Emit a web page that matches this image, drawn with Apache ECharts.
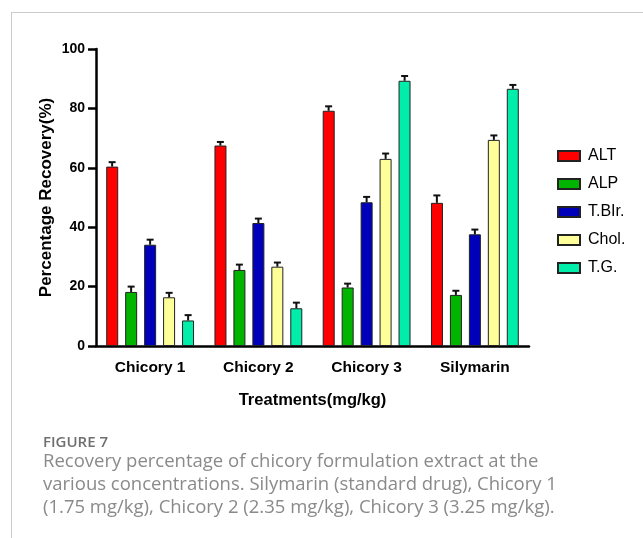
<!DOCTYPE html>
<html>
<head>
<meta charset="utf-8">
<script src="https://cdn.jsdelivr.net/npm/echarts@6/dist/echarts.min.js"></script>
<style>
  html, body { margin: 0; padding: 0; background: #fff; }
  #chart { width: 643px; height: 538px; }
</style>
</head>
<body>
<div id="chart"></div>
<script>
// Treatment groups
const categories = ['Chicory 1', 'Chicory 2', 'Chicory 3', 'Silymarin'];
const seriesNames = ['ALT', 'ALP', 'T.BIr.', 'Chol.', 'T.G.'];

// Mean recovery (%) per marker
const altValues  = [60.4, 67.5, 79.2, 48.2];
const alpValues  = [18.2, 25.6, 19.7, 17.2];
const tbilValues = [34.1, 41.4, 48.4, 37.6];
const cholValues = [16.4, 26.7, 63.0, 69.4];
const tgValues   = [8.6, 12.7, 89.3, 86.6];

// Standard deviation per marker
const altErr  = [1.5, 1.2, 1.5, 2.5];
const alpErr  = [1.8, 1.8, 1.3, 1.4];
const tbilErr = [1.7, 1.5, 1.8, 1.6];
const cholErr = [1.5, 1.4, 1.8, 1.5];
const tgErr   = [1.8, 1.9, 1.6, 1.3];

const yTicks = [0, 20, 40, 60, 80, 100];

const values = [altValues, alpValues, tbilValues, cholValues, tgValues];
const errors = [altErr, alpErr, tbilErr, cholErr, tgErr];
const colors = ['#ff0000', '#00b400', '#0000bb', '#ffff99', '#00eeaa'];

const BAR_W = 12;
const BAR_STEP = 19;

const chart = echarts.init(document.getElementById('chart'));
const boldFont = 'Liberation Sans, Arial, sans-serif';

const barSeries = seriesNames.map((name, i) => ({
  name: name,
  type: 'bar',
  data: values[i],
  barWidth: BAR_W,
  barGap: '58%',
  itemStyle: { color: colors[i], borderColor: '#222', borderWidth: 1 },
  emphasis: { disabled: true },
  z: 2
}));

// Upper error whiskers, placed at each bar's centre within its group
const errorSeries = seriesNames.map((name, i) => ({
  type: 'custom',
  name: name + ' SD',
  data: values[i].map((v, j) => [j, v, v + errors[i][j]]),
  z: 3,
  silent: true,
  renderItem: function (params, api) {
    const offset = (i - 2) * BAR_STEP;
    const base = api.coord([api.value(0), api.value(1)]);
    const top = api.coord([api.value(0), api.value(2)]);
    const x = base[0] + offset;
    return {
      type: 'group',
      children: [
        { type: 'line', shape: { x1: x, y1: base[1], x2: x, y2: top[1] },
          style: { stroke: '#111', lineWidth: 2 } },
        { type: 'line', shape: { x1: x - 3.5, y1: top[1], x2: x + 3.5, y2: top[1] },
          style: { stroke: '#111', lineWidth: 2 } }
      ]
    };
  }
}));

const captionColor = '#8a8a8a';
const captionFont = '"Open Sans", "Noto Sans", sans-serif';

chart.setOption({
  animation: false,
  backgroundColor: '#fff',
  grid: { left: 96, right: 114, top: 49, bottom: 192, containLabel: false },
  legend: {
    data: seriesNames,
    orient: 'vertical',
    left: 552,
    top: 143,
    icon: 'rect',
    itemWidth: 22,
    itemHeight: 10,
    itemGap: 12,
    textStyle: { fontFamily: boldFont, fontSize: 16, color: '#000', padding: [0, 0, 0, 3] },
    selectedMode: false
  },
  xAxis: {
    type: 'category',
    data: categories,
    name: 'Treatments(mg/kg)',
    nameLocation: 'middle',
    nameGap: 46,
    nameMoveOverlap: false,
    nameTextStyle: { fontFamily: boldFont, fontSize: 16.5, fontWeight: 'bold', color: '#000' },
    axisLine: { lineStyle: { color: '#000', width: 2.5 } },
    axisTick: { alignWithLabel: true, length: 8, lineStyle: { color: '#000', width: 2.5 } },
    axisLabel: { margin: 14, fontFamily: boldFont, fontSize: 15.5, fontWeight: 'bold', color: '#000' }
  },
  yAxis: {
    type: 'value',
    min: yTicks[0],
    max: yTicks[yTicks.length - 1],
    interval: 20,
    name: 'Percentage Recovery(%)',
    nameLocation: 'middle',
    nameGap: 41,
    nameMoveOverlap: false,
    nameTextStyle: { fontFamily: boldFont, fontSize: 17, fontWeight: 'bold', color: '#000' },
    axisLine: { show: true, lineStyle: { color: '#000', width: 2.5 } },
    axisTick: { show: true, length: 8, lineStyle: { color: '#000', width: 2.5 } },
    axisLabel: { margin: 11, fontFamily: boldFont, fontSize: 14, fontWeight: 'bold', color: '#000' },
    splitLine: { show: false }
  },
  series: barSeries.concat(errorSeries),
  graphic: [
    { type: 'line', shape: { x1: 11.5, y1: 12, x2: 11.5, y2: 538 }, style: { stroke: '#cccccc', lineWidth: 1 } },
    { type: 'line', shape: { x1: 11, y1: 12.5, x2: 643, y2: 12.5 }, style: { stroke: '#cccccc', lineWidth: 1 } },
    { type: 'text', left: 43, top: 435,
      style: { text: 'FIGURE 7', fill: '#6f6f6f', font: '600 15px ' + captionFont } },
    { type: 'text', left: 43, top: 452,
      style: { text: 'Recovery percentage of chicory formulation extract at the', fill: captionColor, font: '18.5px ' + captionFont } },
    { type: 'text', left: 43, top: 475,
      style: { text: 'various concentrations. Silymarin (standard drug), Chicory 1', fill: captionColor, font: '18.5px ' + captionFont } },
    { type: 'text', left: 43, top: 498,
      style: { text: '(1.75 mg/kg), Chicory 2 (2.35 mg/kg), Chicory 3 (3.25 mg/kg).', fill: captionColor, font: '18.5px ' + captionFont } }
  ]
});
</script>
</body>
</html>
